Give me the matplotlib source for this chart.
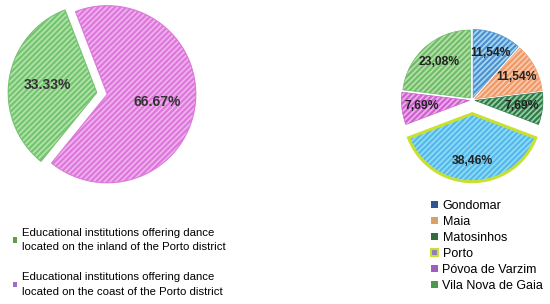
import matplotlib
matplotlib.use('Agg')
import matplotlib.pyplot as plt
from matplotlib.patches import Patch, Wedge

plt.rcParams['font.family'] = ['Liberation Sans', 'DejaVu Sans']
plt.rcParams['hatch.linewidth'] = 1.6

# left pie: inland vs coast
region_labels = ['Educational institutions offering dance\nlocated on the inland of the Porto district',
                 'Educational institutions offering dance\nlocated on the coast of the Porto district']
region_values = [33.33, 66.67]
region_face = ['#b4e4ac', '#f2b2f0']
region_hatch = ['#74c470', '#dc78da']
region_marker = ['#5f9e45', '#9a72c4']

# right pie: municipalities
city_labels = ['Gondomar', 'Maia', 'Matosinhos', 'Porto', 'Póvoa de Varzim', 'Vila Nova de Gaia']
city_values = [11.54, 11.54, 7.69, 38.46, 7.69, 23.08]
city_face = ['#a8dcf2', '#f8ccae', '#9ad2a6', '#86e2f6', '#f2aef2', '#b6e2a6']
city_hatch = ['#5090d0', '#f09868', '#2e7a4a', '#5cb4ea', '#cc62cc', '#70bc6c']
city_marker = ['#2f5597', '#d9a06b', '#2f6f3f', '#8e7cc3', '#a05cc0', '#4c9a4c']

fig = plt.figure(figsize=(5.5, 3.04), dpi=100)

# ---- left pie
ax1 = fig.add_axes([-0.185, 0.39, 0.76, 0.60])
wedges, texts, autotexts = ax1.pie(region_values, startangle=111, explode=[0.12, 0],
                                   autopct='%.2f%%', pctdistance=0.57,
                                   textprops=dict(fontsize=10, fontweight='bold', color='#333333'))
for w, fc, hc in zip(wedges, region_face, region_hatch):
    w.set_facecolor(fc)
    w.set_edgecolor(hc)
    w.set_hatch('//////')
    w.set_linewidth(0.8)
ax1.set_xlim(-1.12, 1.12)
ax1.set_ylim(-1.03, 1.03)
ax1.set_aspect('equal')

handles = [Patch(facecolor=c, edgecolor='none') for c in region_marker]
leg = fig.legend(handles, region_labels, loc='upper left', bbox_to_anchor=(0.015, 0.265),
                 frameon=False, fontsize=8.2, handlelength=0.4, handleheight=0.4,
                 handletextpad=0.45, labelspacing=1.75, borderaxespad=0)
for t in leg.get_texts():
    t.set_linespacing(1.55)

# ---- right pie
ax2 = fig.add_axes([0.722, 0.38, 0.273, 0.537])
explode = [0.04, 0.04, 0.04, 0.2, 0.04, 0.04]
wedges, texts, autotexts = ax2.pie(city_values, startangle=90, counterclock=False,
                                   explode=explode,
                                   autopct=lambda p: ('%.2f%%' % p).replace('.', ','),
                                   pctdistance=0.7,
                                   textprops=dict(fontsize=8.7, fontweight='bold', color='#222222'))
for w, fc, hc in zip(wedges, city_face, city_hatch):
    w.set_facecolor(fc)
    w.set_edgecolor(hc)
    w.set_hatch('//////')
    w.set_linewidth(0.5)
# yellow outline round the Porto slice, on top of its hatch
p = wedges[3]
ax2.add_patch(Wedge(p.center, p.r, p.theta1, p.theta2, fill=False,
                    edgecolor='#c8e030', linewidth=2.2, zorder=p.get_zorder() + 0.1))
ax2.set_xlim(-1.1, 1.1)
ax2.set_ylim(-1.3, 1.1)
ax2.set_aspect('equal')

handles = [Patch(facecolor=c, edgecolor='none') for c in city_marker]
handles[3] = Patch(facecolor=city_marker[3], edgecolor='#c8e030', linewidth=1.5)
fig.legend(handles, city_labels, loc='upper left', bbox_to_anchor=(0.775, 0.36),
           frameon=False, fontsize=9, handlelength=0.5, handleheight=0.5,
           handletextpad=0.4, labelspacing=0.33, borderaxespad=0)

fig.savefig('out.png', dpi=100)
